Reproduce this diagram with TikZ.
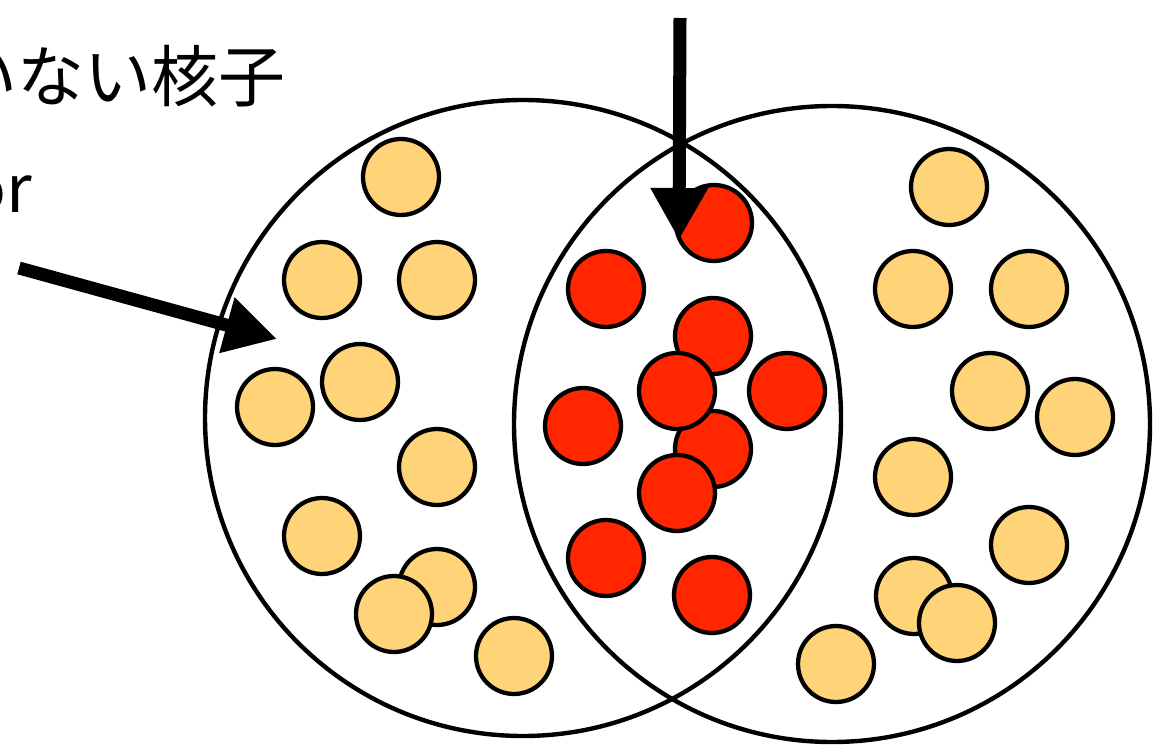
\documentclass[tikz,border=0pt]{standalone}
\usepackage{fontspec}
\newfontfamily\jp{Noto Sans CJK JP}
\usetikzlibrary{arrows.meta}
\definecolor{cantaloupe}{HTML}{FFD479}
\definecolor{nucred}{HTML}{FF2600}
\begin{document}
\begin{tikzpicture}[x=1pt,y=-1pt,
  ring/.style={circle,draw=black,line width=4.4pt,minimum size=636pt,inner sep=0pt},
  ball/.style={circle,draw=black,line width=4.3pt,minimum size=76pt,inner sep=0pt},
  spec/.style={ball,fill=cantaloupe},
  part/.style={ball,fill=nucred},
  bigarrow/.style={line width=13pt,-{Triangle[length=52pt,width=54pt]}},
  lbl/.style={inner sep=0pt,anchor=base east,font=\jp\fontsize{67}{72}\selectfont}
]
\useasboundingbox (0,0) rectangle (1153,744);
\fill[white] (0,0) rectangle (1153,744);

% texts (cut at the left edge, as in the reference)
\node[lbl] (t1) at (286,101) {いない核子};
\node[lbl,font=\jp\fontsize{66}{72}\selectfont] (t2) at (32,212) {or};

% nuclei
\node[ring] (A) at (523,418) {};
\node[ring] (B) at (832,424) {};

% left spectators
\node[spec] (l1) at (401,177) {};
\node[spec] (l2) at (322,280) {};
\node[spec] (l3) at (437,280) {};
\node[spec] (l4) at (360,382) {};
\node[spec] (l5) at (275,407) {};
\node[spec] (l6) at (437,467) {};
\node[spec] (l7) at (322,536) {};
\node[spec] (l8) at (437,587) {};
\node[spec] (l9) at (394,614) {};
\node[spec] (l10) at (514,656) {};

% participants
\node[part] (p1) at (714,223) {};
\node[part] (p2) at (606,289) {};
\node[part] (p3) at (713,336) {};
\node[part] (p4) at (787,391) {};
\node[part] (p5) at (583,426) {};
\node[part] (p6) at (713,449) {};
\node[part] (p7) at (677,391) {};
\node[part] (p8) at (677,493) {};
\node[part] (p9) at (606,558) {};
\node[part] (p10) at (712,595) {};

% right spectators
\node[spec] (r1) at (949,187) {};
\node[spec] (r2) at (913,289) {};
\node[spec] (r3) at (1029,289) {};
\node[spec] (r4) at (990,391) {};
\node[spec] (r5) at (1075,417) {};
\node[spec] (r6) at (913,477) {};
\node[spec] (r7) at (1029,545) {};
\node[spec] (r8) at (914,596) {};
\node[spec] (r9) at (957,623) {};
\node[spec] (r10) at (836,664) {};

% arrows
\coordinate (a1s) at (19,268);
\coordinate (a1e) at (277,339);
\coordinate (a2s) at (680,18);
\coordinate (a2e) at (679,240);
\draw[bigarrow] (a1s) -- (a1e);
\draw[bigarrow] (a2s) -- (a2e);
\end{tikzpicture}
\end{document}
